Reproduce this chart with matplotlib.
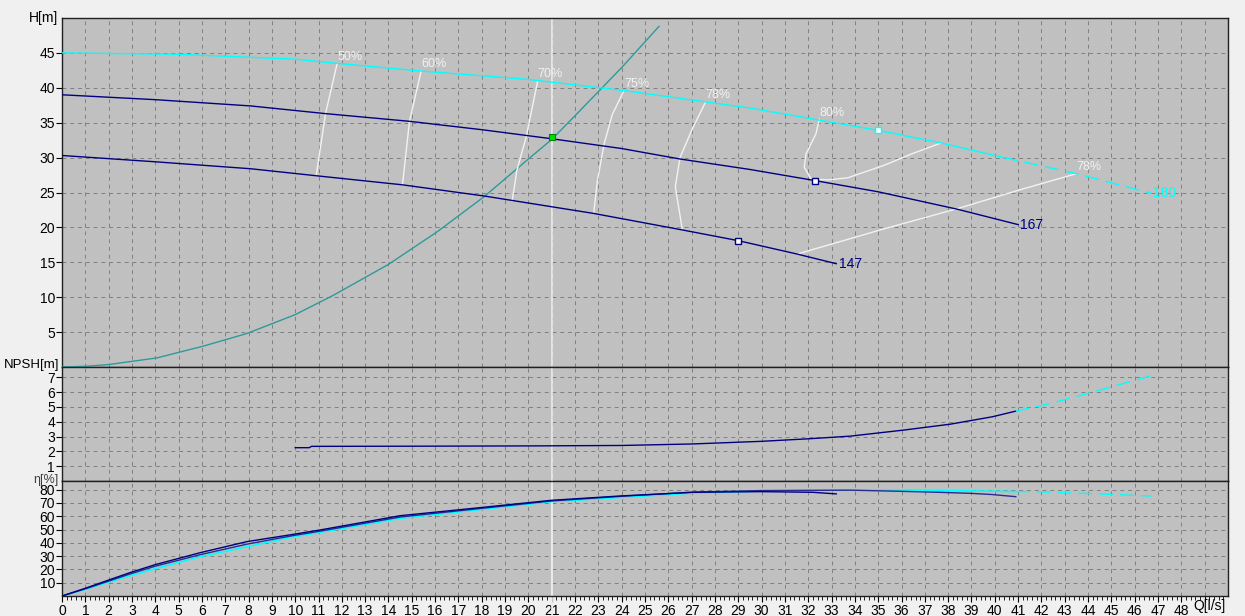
import matplotlib
matplotlib.use("Agg")
import matplotlib.pyplot as plt
import numpy as np

plt.rcParams['font.family'] = ['Liberation Sans', 'DejaVu Sans']

# --- head curves (H [m] vs Q [l/s]) ---
q_180 = [0, 5, 10, 11.8, 15.4, 20, 24.1, 29.5, 35.0, 37.7, 40.4]
h_180 = [45.0, 44.8, 44.1, 43.5, 42.4, 41.2, 39.6, 37.1, 33.9, 32.1, 30.0]
q_180_ext = [40.4, 43.5, 46.7]
h_180_ext = [30.0, 27.7, 24.9]

q_167 = [0, 4, 8.1, 11.3, 14.9, 18, 21.0, 24, 26.5, 29.5, 32.3, 35.0, 38.4, 41.0]
h_167 = [39.0, 38.3, 37.4, 36.3, 35.2, 34.0, 32.7, 31.3, 29.8, 28.3, 26.7, 25.1, 22.6, 20.4]

q_147 = [0, 4, 8.1, 10.9, 14.6, 18.1, 22.8, 26.5, 29.0, 31.5, 33.2]
h_147 = [30.3, 29.4, 28.4, 27.4, 26.1, 24.5, 22.0, 19.7, 18.1, 16.2, 14.8]

# system curve
q_sys = [0, 1, 2, 4.07, 6.07, 7.93, 10.0, 11.65, 14.0, 16.1, 18.1, 20, 21.0, 22, 24, 25.6]
h_sys = [0, 0.1, 0.35, 1.3, 3.0, 4.8, 7.5, 10.3, 14.7, 19.4, 24.4, 29.8, 32.6, 36.0, 42.9, 48.8]

duty_q, duty_h = 21.0, 32.9

# iso-efficiency lines
iso_lines = [
    ("50%", [10.9, 11.3, 11.8], [27.4, 36.3, 43.5]),
    ("60%", [14.6, 14.9, 15.4], [26.1, 35.2, 42.4]),
    ("70%", [19.3, 19.4, 19.5, 19.9, 20.4], [23.8, 25.8, 28.1, 32.9, 41.0]),
    ("75%", [22.8, 22.96, 23.25, 23.6, 24.1], [22.0, 26.7, 32.0, 36.2, 39.6]),
    ("78%", [26.6, 26.3, 26.5, 27.0, 27.6], [19.7, 25.8, 30.0, 33.9, 38.0]),
    ("80%", [37.7, 36.41, 35.26, 33.69, 32.83, 32.12, 31.83, 31.9, 32.33, 32.47],
            [32.1, 30.5, 28.9, 27.1, 26.8, 26.95, 28.6, 30.5, 33.4, 35.5]),
    ("78%", [31.54, 35.26, 38.41, 40.99, 43.5], [16.2, 19.8, 22.7, 25.3, 27.7]),
]

# best efficiency points
bep_q = [35.0, 32.3, 29.0]
bep_h = [33.9, 26.7, 18.1]

# --- NPSH ---
q_npsh = [10.0, 10.6, 10.7, 15, 20, 24, 27, 30, 32, 33.8, 36.1, 38.1, 39.9, 40.9]
n_npsh = [2.25, 2.25, 2.34, 2.35, 2.37, 2.4, 2.5, 2.68, 2.85, 3.03, 3.44, 3.84, 4.34, 4.72]
q_npsh_ext = [40.9, 42.4, 44.6, 46.8]
n_npsh_ext = [4.72, 5.24, 6.18, 7.15]

# --- efficiency ---
q_eta_180 = [0, 1, 2, 2.92, 4, 5.93, 7.93, 9.93, 11.08, 14.5, 17.5, 21, 24, 27.1, 30, 33.8, 36.7, 40, 40.9]
e_eta_180 = [0, 5.0, 10.5, 15.3, 20.6, 29.6, 37.1, 44.6, 47.9, 58.4, 64.2, 71, 74.2, 77.5, 79, 79.8, 79.6, 78.8, 78.5]
q_eta_180_ext = [40.9, 41.7, 44.6, 46.7]
e_eta_180_ext = [78.5, 78.5, 76.7, 75.2]
q_eta_167 = [0, 1, 2, 2.92, 4, 5.93, 7.93, 9.93, 11.08, 14.5, 17.5, 21, 24, 27.1, 30, 33.8, 35.8, 37.6, 39.0, 39.9, 40.9]
e_eta_167 = [0, 5.4, 11.2, 16.6, 22.4, 31.1, 39.0, 45.5, 48.8, 59.4, 65.0, 71.5, 75.0, 78.2, 79.3, 79.6, 78.8, 78.0, 77.2, 76.3, 74.7]
q_eta_147 = [0, 1, 2, 2.92, 4, 5.93, 7.93, 9.93, 11.08, 14.5, 17.5, 21, 24, 27.1, 30, 32.2, 33.2]
e_eta_147 = [0, 5.8, 12.0, 17.6, 23.6, 32.6, 40.9, 46.4, 49.7, 60.4, 65.7, 72, 75.3, 78, 78.5, 78, 76.8]

NAVY = "#000080"
CYAN = "#00ffff"
TEAL = "#2e9a9a"
ISO = "#f2f2f2"
FACE = "#c0c0c0"
GRID = "#808080"

fig = plt.figure(figsize=(12.45, 6.16), dpi=100, facecolor="#f0f0f0")
L, W = 62 / 1245, (1228 - 62) / 1245
def fy(py):
    return 1 - py / 616

ax_h = fig.add_axes([L, fy(367), W, fy(18) - fy(367)])
ax_n = fig.add_axes([L, fy(481), W, fy(367) - fy(481)], sharex=ax_h)
ax_e = fig.add_axes([L, fy(596), W, fy(481) - fy(596)], sharex=ax_h)

for ax in (ax_h, ax_n, ax_e):
    ax.set_facecolor(FACE)
    ax.set_xlim(0, 50)
    ax.set_xticks(np.arange(0, 50, 1))
    ax.grid(True, color=GRID, linestyle=(0, (4, 4)), linewidth=0.7)
    ax.set_axisbelow(True)
    for s in ax.spines.values():
        s.set_color("#202020")
        s.set_linewidth(1.0)
    ax.tick_params(axis="y", direction="out", length=4, labelsize=10, pad=1)
    ax.axvline(duty_q, color="#ececec", lw=1.2, zorder=1.5)

ax_h.tick_params(axis="x", length=0, labelbottom=False)
ax_n.tick_params(axis="x", length=0, labelbottom=False)

# head panel
ax_h.set_ylim(0, 50)
ax_h.set_yticks(np.arange(5, 50, 5))
ax_h.plot(q_sys, h_sys, color=TEAL, lw=1.0, zorder=3)
ax_h.plot(q_180, h_180, color=CYAN, lw=1.0, zorder=4)
ax_h.plot(q_180_ext, h_180_ext, color=CYAN, lw=1.0, linestyle=(0, (10, 5)), zorder=4)
ax_h.plot(q_167, h_167, color=NAVY, lw=1.0, zorder=4)
ax_h.plot(q_147, h_147, color=NAVY, lw=1.0, zorder=4)
for label, q, h in iso_lines:
    ax_h.plot(q, h, color=ISO, lw=1.0, zorder=3.5)
    ax_h.text(q[-1], h[-1] + 0.1, label, color=ISO, fontsize=9, ha="left", va="bottom")
ax_h.plot(bep_q[0], bep_h[0], "s", ms=5, mfc="white", mec=CYAN, mew=1, zorder=5)
ax_h.plot(bep_q[1:], bep_h[1:], "s", ms=5, mfc="white", mec=NAVY, mew=1, zorder=5, linestyle="none")
ax_h.plot(duty_q, duty_h, "s", ms=5, mfc="#00e000", mec="#008000", mew=0.8, zorder=6)
ax_h.text(q_167[-1] + 0.1, h_167[-1], "167", color=NAVY, fontsize=10, va="center")
ax_h.text(q_147[-1] + 0.1, h_147[-1], "147", color=NAVY, fontsize=10, va="center")
ax_h.text(q_180_ext[-1] + 0.1, h_180_ext[-1], "180", color=CYAN, fontsize=10, va="center")

# NPSH panel
ax_n.set_ylim(0, 7.7)
ax_n.set_yticks(np.arange(1, 8, 1))
ax_n.plot(q_npsh, n_npsh, color=NAVY, lw=1.0, zorder=4)
ax_n.plot(q_npsh_ext, n_npsh_ext, color=CYAN, lw=1.0, linestyle=(0, (10, 5)), zorder=4)

# efficiency panel
ax_e.set_ylim(0, 86.5)
ax_e.set_yticks(np.arange(10, 90, 10))
ax_e.plot(q_eta_180, e_eta_180, color=CYAN, lw=1.2, zorder=4)
ax_e.plot(q_eta_180_ext, e_eta_180_ext, color=CYAN, lw=1.0, linestyle=(0, (10, 5)), zorder=4)
ax_e.plot(q_eta_167, e_eta_167, color="#2a2a90", lw=1.0, zorder=4)
ax_e.plot(q_eta_147, e_eta_147, color=NAVY, lw=1.0, zorder=4)
ax_e.set_xticks(np.arange(0, 50, 0.2), minor=True)
ax_e.set_xticks(np.arange(0, 50, 1))
ax_e.set_xticklabels([str(i) if i <= 48 else "" for i in range(50)])
ax_e.tick_params(axis="x", which="major", length=4, labelsize=10, pad=2)
ax_e.tick_params(axis="x", which="minor", length=3)
ax_e.axvline(duty_q, ymin=-0.18, ymax=1, color="#ececec", lw=1.2, clip_on=False, zorder=1.5)

# axis titles
fig.text(58 / 1245, fy(18), "H[m]", ha="right", va="center", fontsize=10)
fig.text(59 / 1245, fy(365), "NPSH[m]", ha="right", va="center", fontsize=9.5)
fig.text(59 / 1245, fy(480), "η[%]", ha="right", va="center", fontsize=9, color="#404040")
fig.text(1226 / 1245, fy(606), "Q[l/s]", ha="right", va="center", fontsize=10)

fig.savefig("out.png", dpi=100, facecolor=fig.get_facecolor())
